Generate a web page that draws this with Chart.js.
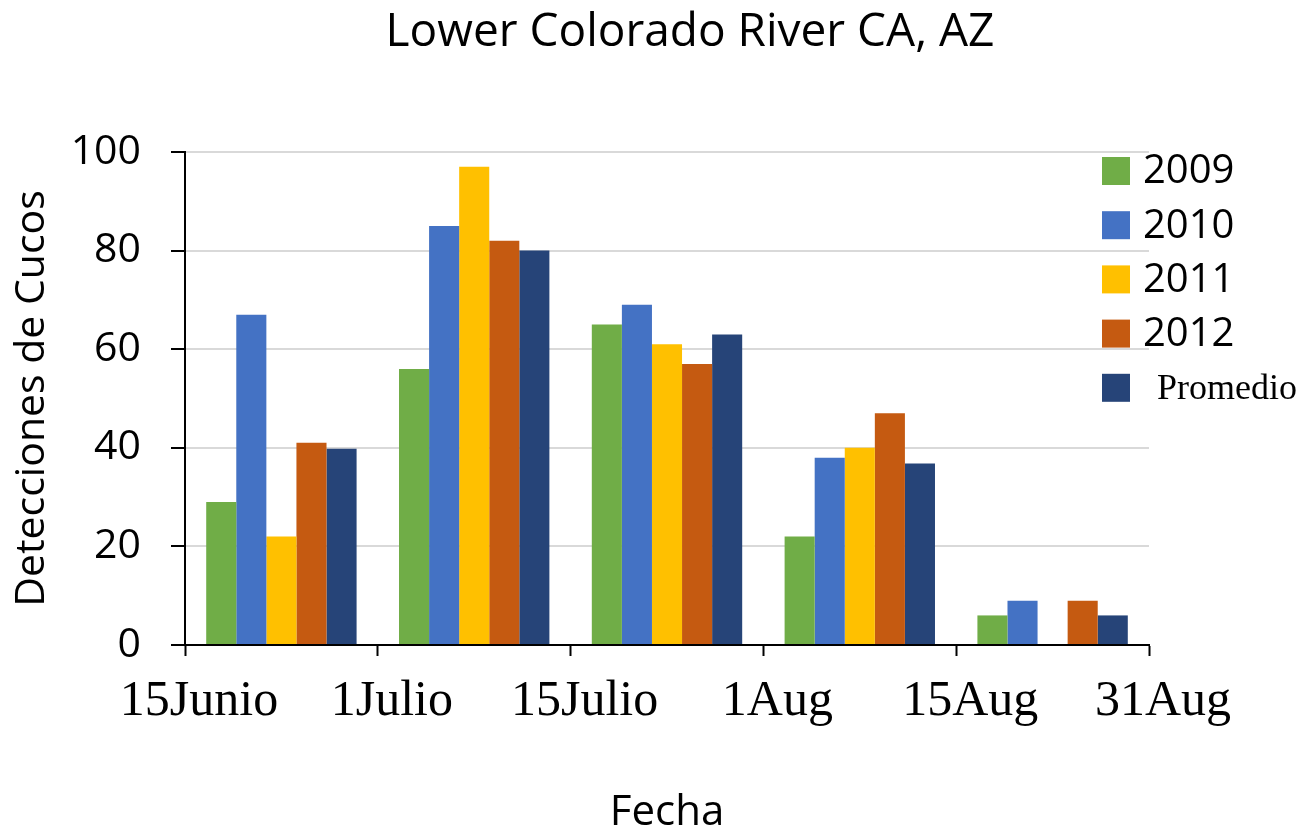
<!DOCTYPE html>
<html>
<head>
<meta charset="utf-8">
<script src="https://cdn.jsdelivr.net/npm/chart.js@4/dist/chart.umd.min.js"></script>
<style>
  html, body { margin: 0; padding: 0; background: #ffffff; }
  #wrap { width: 1311px; height: 834px; position: relative; }
</style>
</head>
<body>
<div id="wrap"><canvas id="c" width="1311" height="834"></canvas></div>
<script>
// ---- data ----
const chartTitle = 'Lower Colorado River CA, AZ';
const categories = ['15Junio–1Julio', '1Julio–15Julio', '15Julio–1Aug', '1Aug–15Aug', '15Aug–31Aug'];
const tickLabels = ['15Junio', '1Julio', '15Julio', '1Aug', '15Aug', '31Aug'];
const seriesNames = ['2009', '2010', '2011', '2012', 'Promedio'];
const s2009 = [29, 56, 65, 22, 6];
const s2010 = [67, 85, 69, 38, 9];
const s2011 = [22, 97, 61, 40, 0];
const s2012 = [41, 82, 57, 47, 9];
const promedio = [39.8, 80, 63, 36.8, 6];
const seriesColors = ['#70AD47', '#4472C4', '#FFC000', '#C55A11', '#264478'];
const yTitle = 'Detecciones de Cucos';
const xTitle = 'Fecha';

const SANS = '"Open Sans", "Noto Sans", sans-serif';
const SERIF = '"Liberation Serif", "DejaVu Serif", serif';

const seriesValues = [s2009, s2010, s2011, s2012, promedio];
const datasets = seriesNames.map((name, i) => ({
  label: name,
  data: seriesValues[i],
  backgroundColor: seriesColors[i],
  borderWidth: 0,
  categoryPercentage: 0.78,
  barPercentage: 1.0,
  xAxisID: 'x',
  yAxisID: 'y'
}));

const titleAndLegend = {
  id: 'titleAndLegend',
  afterDraw(chart) {
    const ctx = chart.ctx;
    const ca = chart.chartArea;
    ctx.save();
    // title
    ctx.fillStyle = '#000';
    ctx.font = '46px ' + SANS;
    ctx.textAlign = 'center';
    ctx.textBaseline = 'middle';
    ctx.fillText(chartTitle, 690, 33);
    // legend
    const box = 28;
    const x0 = ca.right - 47;
    const y0 = 171;
    const step = 54.2;
    chart.data.datasets.forEach((ds, i) => {
      const cy = y0 + i * step;
      ctx.fillStyle = ds.backgroundColor;
      ctx.fillRect(x0, cy - box / 2, box, box);
      ctx.fillStyle = '#000';
      ctx.textAlign = 'left';
      ctx.textBaseline = 'middle';
      if (i === chart.data.datasets.length - 1) {
        ctx.font = '36px ' + SERIF;
        ctx.fillText(ds.label, x0 + box + 27, cy + 2);
      } else {
        ctx.font = '40px ' + SANS;
        ctx.fillText(ds.label, x0 + box + 13, cy + 1);
      }
    });
    ctx.restore();
  }
};

new Chart(document.getElementById('c'), {
  type: 'bar',
  data: { labels: categories, datasets: datasets },
  options: {
    responsive: false,
    animation: false,
    layout: { padding: { top: 152, right: 162, left: 0, bottom: 0 } },
    plugins: {
      legend: { display: false },
      title: { display: false },
      tooltip: { enabled: false }
    },
    scales: {
      x: {
        type: 'category',
        display: false,
        offset: true
      },
      xl: {
        type: 'linear',
        position: 'bottom',
        offset: false,
        min: 0,
        max: tickLabels.length - 1,
        afterFit(scale) { scale.height = 189; },
        ticks: {
          stepSize: 1,
          autoSkip: false,
          maxRotation: 0,
          minRotation: 0,
          padding: 16,
          labelOffset: 14,
          color: '#000',
          font: { family: SERIF, size: 50 },
          callback: (v) => tickLabels[v]
        },
        grid: {
          offset: false,
          drawOnChartArea: false,
          drawTicks: true,
          tickLength: 11,
          tickColor: '#000',
          tickWidth: 2,
          color: '#000'
        },
        border: { display: true, color: '#000', width: 2 },
        title: {
          display: true,
          text: xTitle,
          color: '#000',
          font: { family: SANS, size: 42, lineHeight: 1 },
          padding: { top: -6, bottom: 0 }
        }
      },
      y: {
        min: 0,
        max: 100,
        afterFit(scale) { scale.width = 185; },
        ticks: {
          stepSize: 20,
          padding: 30,
          color: '#000',
          font: { family: SANS, size: 41 }
        },
        grid: {
          color: '#d9d9d9',
          lineWidth: 2,
          drawTicks: true,
          tickLength: 14,
          tickColor: '#000',
          tickWidth: 2
        },
        border: { display: true, color: '#000', width: 2 },
        title: {
          display: true,
          text: yTitle,
          color: '#000',
          font: { family: SANS, size: 41, lineHeight: 1 },
          padding: { top: 12, bottom: 0 }
        }
      }
    }
  },
  plugins: [titleAndLegend]
});
</script>
</body>
</html>
